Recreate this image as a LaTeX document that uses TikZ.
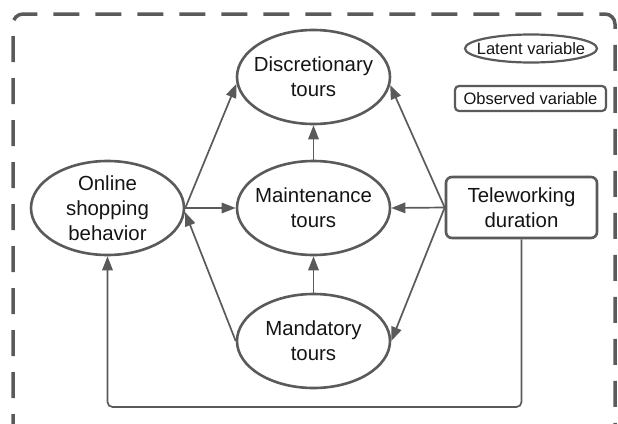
\documentclass[tikz,border=0pt]{standalone}
\usepackage{fontspec}
\setmainfont{Liberation Sans}
\usetikzlibrary{shapes.geometric,arrows.meta}

\definecolor{linegray}{HTML}{5A5A5A}
\definecolor{textblack}{HTML}{141414}

\begin{document}
\begin{tikzpicture}[x=1pt, y=-1pt,
        latent/.style={ellipse, draw=linegray, line width=2.6pt, inner xsep=-6pt, inner ysep=-2pt,
            minimum width=153pt, minimum height=94pt, align=center, text=textblack,
            font=\fontsize{20.4}{25}\selectfont},
        observed/.style={rectangle, rounded corners=6pt, draw=linegray, line width=2.6pt,
            minimum width=151pt, minimum height=61pt, align=center, text=textblack,
            font=\fontsize{20.4}{25}\selectfont},
        latentkey/.style={ellipse, draw=linegray, line width=2.2pt, inner xsep=-8pt, inner ysep=0pt,
            minimum width=132pt, minimum height=28pt, text=textblack, font=\fontsize{16.5}{20}\selectfont},
        observedkey/.style={rectangle, rounded corners=4pt, draw=linegray, line width=2.2pt,
            minimum width=151pt, minimum height=25pt, inner sep=0pt, text=textblack,
            font=\fontsize{16.5}{20}\selectfont},
        link/.style={draw=linegray, line width=1.7pt, -{Triangle[length=14pt, width=10.5pt]}}
    ]
        \useasboundingbox (0, 0) rectangle (618, 423);

        % dashed frame, its bottom runs off the page
        \draw[linegray, line width=3.5pt, dash pattern=on 26pt off 16pt, rounded corners=10pt]
            (13, 440) -- (13, 14) -- (615, 14) -- (615, 440);

        \node[latent] (disc) at (313.5, 77) {Discretionary\\tours};
        \node[latent] (maint) at (313.5, 208) {Maintenance\\tours};
        \node[latent] (mand) at (313.5, 341) {Mandatory\\tours};
        \node[latent] (online) at (107.5, 208) {Online\\shopping\\behavior};
        \node[observed] (tele) at (521.5, 207.5) {Teleworking\\duration};

        \node[latentkey] (latentkey) at (531, 48.5) {Latent variable};
        \node[observedkey] (observedkey) at (530.5, 98.5) {Observed variable};

        \coordinate (floor) at (0, 407);

        \draw[link] (online.east) -- (disc.185);
        \draw[link] (online.east) -- (maint.west);
        \draw[link] (mand.west) -- (online.-3);

        \draw[link] (tele.west) -- (disc.-6);
        \draw[link] (tele.west) -- (maint.east);
        \draw[link] (tele.west) -- (mand.east);

        \draw[link] (maint.north) -- (disc.south);
        \draw[link] (mand.north) -- (maint.south);

        \draw[link, rounded corners=5pt] (tele.south) -- (tele.south |- floor)
            -- (online.south |- floor) -- (online.south);
    \end{tikzpicture}
\end{document}
